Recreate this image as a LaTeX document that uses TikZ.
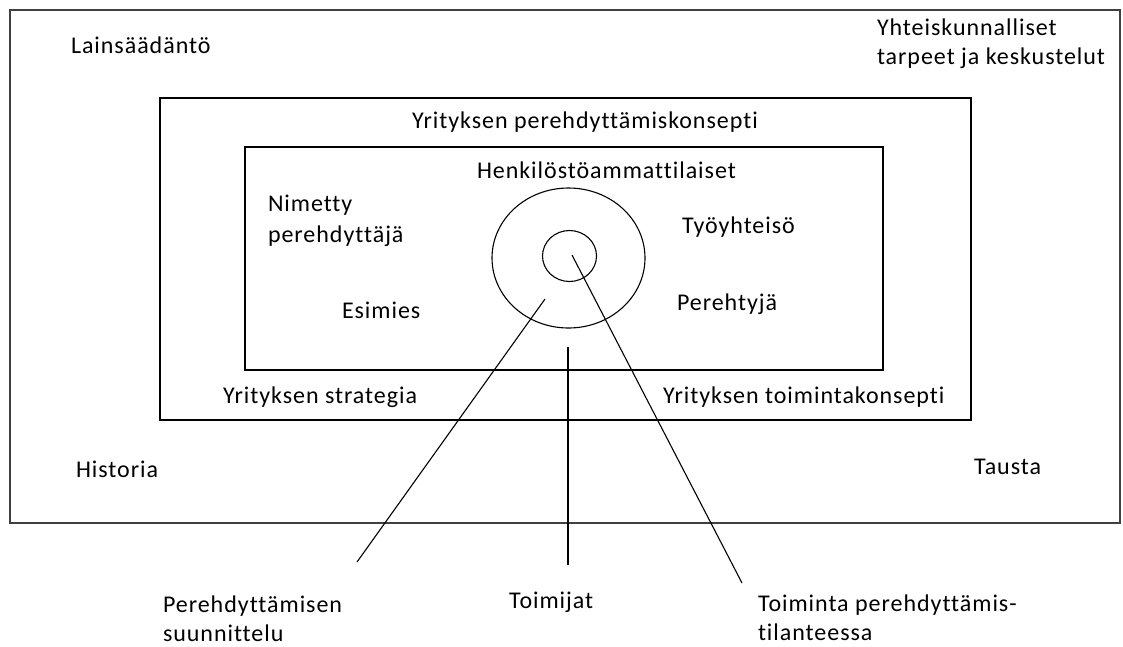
\documentclass[tikz,border=0pt]{standalone}
\usepackage{fontspec}
\setmainfont[Ligatures=NoCommon,LetterSpace=4]{Carlito}
\usetikzlibrary{shapes.geometric}
\begin{document}
\begin{tikzpicture}[x=1pt,y=-1pt,
  lbl/.style={anchor=base west,inner sep=0pt,outer sep=0pt,align=left,
    font=\fontsize{24}{30}\selectfont},
  frame/.style={draw=black,line width=1.6pt},
  ring/.style={draw=black,line width=1.1pt,ellipse,inner sep=0pt},
  conn/.style={draw=black,line width=1.1pt}]
\useasboundingbox (0,0) rectangle (1123,646);
% frames
\draw[frame,draw=black!75,line width=2pt] (10,10) rectangle (1120,523);
\draw[frame] (160,98) rectangle (971,420);
\draw[frame] (245,147) rectangle (883,370);
% rings
\node[ring,minimum width=153pt,minimum height=140pt] (big) at (568.5,258) {};
\node[ring,minimum width=54pt,minimum height=51pt] (small) at (569.5,256) {};
% text (multi-line nodes are placed by the baseline of their last line)
\node[lbl] (law) at (71,53) {Lainsäädäntö};
\node[lbl,font=\fontsize{24}{29}\selectfont] (soc) at (877,64) {Yhteiskunnalliset\\tarpeet ja keskustelut};
\node[lbl] (konsepti) at (412,128) {Yrityksen perehdyttämiskonsepti};
\node[lbl] (henk) at (477,178) {Henkilöstöammattilaiset};
\node[lbl,font=\fontsize{24}{31}\selectfont] (nim) at (268,242) {Nimetty\\perehdyttäjä};
\node[lbl] (tyo) at (682,233) {Työyhteisö};
\node[lbl] (perehtyja) at (677,310) {Perehtyjä};
\node[lbl] (esi) at (342,318) {Esimies};
\node[lbl] (strat) at (223,403) {Yrityksen strategia};
\node[lbl] (toimk) at (663,403) {Yrityksen toimintakonsepti};
\node[lbl] (hist) at (76,477) {Historia};
\node[lbl] (taus) at (974,474) {Tausta};
\node[lbl,font=\fontsize{24}{29}\selectfont] (suun) at (163,641) {Perehdyttämisen\\suunnittelu};
\node[lbl] (toimijat) at (509,608) {Toimijat};
\node[lbl,font=\fontsize{24}{29}\selectfont] (tilanne) at (758,640) {Toiminta perehdyttämis-\\tilanteessa};
% connector points
\coordinate (a1) at (545,299);
\coordinate (a2) at (357,562);
\coordinate (b1) at (568,347);
\coordinate (b2) at (568,565);
\coordinate (c1) at (572,255);
\coordinate (c2) at (742,583);
\draw[conn] (a1) -- (a2);
\draw[conn] (b1) -- (b2);
\draw[conn] (c1) -- (c2);
\end{tikzpicture}
\end{document}
